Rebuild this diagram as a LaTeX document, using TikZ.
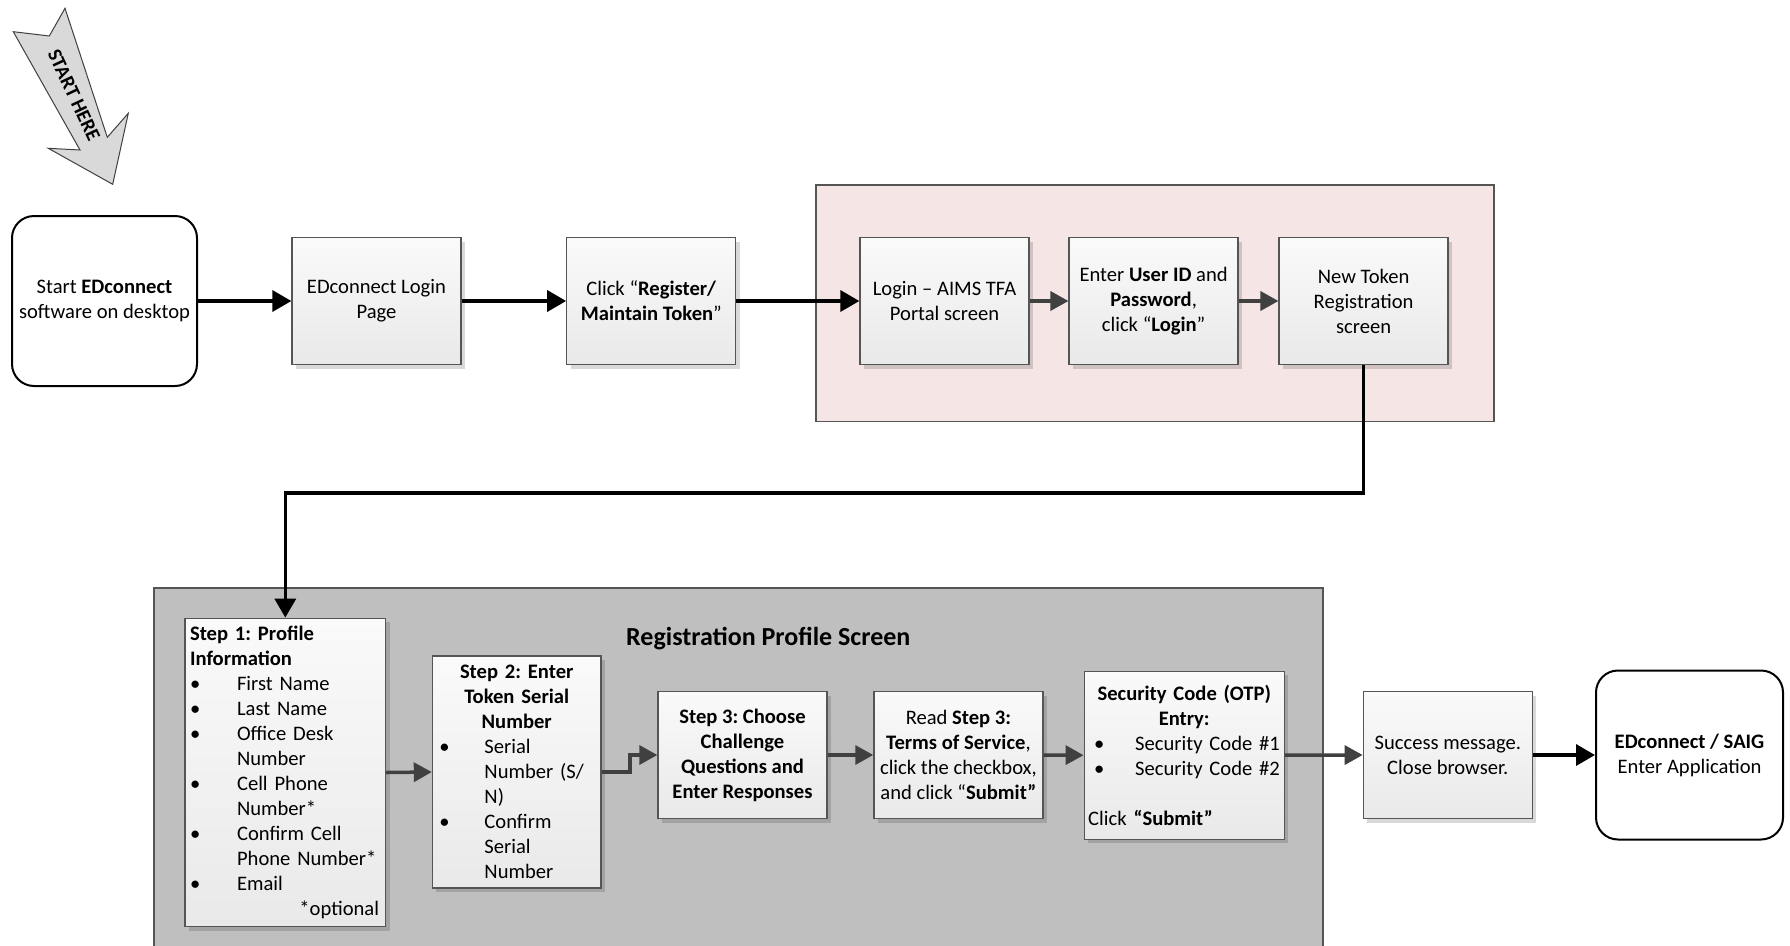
\documentclass[tikz,border=0pt]{standalone}
\usepackage{fontspec}
\setmainfont{Carlito}
\usetikzlibrary{arrows.meta,shadows}
\definecolor{boxline}{RGB}{85,85,85}
\definecolor{pinkbg}{RGB}{245,229,229}
\definecolor{graybg}{RGB}{191,191,191}
\definecolor{darkarrow}{RGB}{64,64,64}
\definecolor{boxtop}{RGB}{250,250,250}
\definecolor{boxbot}{RGB}{233,233,233}
\definecolor{startfill}{RGB}{217,217,217}
\newcommand{\itm}[3]{\mbox{\hspace*{#1pt}\makebox[\dimexpr#2pt-#1pt\relax][l]{\textbullet}#3}}
\newcommand{\cnt}{\hspace*{47pt}}
\frenchspacing
\begin{document}
\frenchspacing
\begin{tikzpicture}[x=1pt, y=-1pt,
  every node/.style={font=\fontsize{20.6}{25}\selectfont\frenchspacing},
  procbox/.style={draw=boxline, line width=1.3pt, top color=boxtop, bottom color=boxbot,
    general shadow={fill=black, opacity=0.15, shadow xshift=4pt, shadow yshift=-4pt},
    align=center, inner sep=4pt, minimum width=169pt, minimum height=127pt},
  termbox/.style={draw=black, line width=2pt, fill=white, rounded corners=22pt, align=center},
  container/.style={draw=boxline, line width=1.5pt, inner sep=0pt},
  blk/.style={line width=3.5pt, black, -{Triangle[length=19pt,width=21pt]}},
  dg/.style={line width=3.5pt, darkarrow, -{Triangle[length=18pt,width=19pt]}}]
\useasboundingbox (0,0) rectangle (1790,945);
\fill[white] (0,0) rectangle (1790,945);

% start here arrow
\draw[draw=darkarrow, line width=1pt, fill=startfill, line join=miter]
  (13.3,31.7) -- (49.3,36) -- (65,8.3) -- (107.3,137.3) -- (128.3,113.3)
  -- (112.7,184.3) -- (48.3,148.3) -- (80,150) -- cycle;
\node[font=\fontsize{20}{22}\selectfont\bfseries, rotate=-65] (starthere) at (74,95) {START HERE};

% containers
\node[container, fill=pinkbg, minimum width=678pt, minimum height=236.5pt] (pinkarea) at (1155.2,303.2) {};
\node[container, fill=graybg, minimum width=1169pt, minimum height=380pt, anchor=north west] (regarea) at (153,587) {};
\node[font=\fontsize{26}{31}\selectfont\bfseries] (title) at (768.3,639) {Registration Profile Screen};

% top row
\node[termbox, minimum width=185pt, minimum height=170pt] (start) at (104.5,301) {Start \textbf{EDconnect}\\software on desktop};
\node[procbox] (login) at (376.5,301) {EDconnect Login\\Page};
\node[procbox] (reg) at (651.3,301) {Click “\textbf{Register/}\\\textbf{Maintain Token}”};
\node[procbox] (aims) at (944.5,301) {Login – AIMS TFA\\Portal screen};
\node[procbox] (userid) at (1153.6,301) {Enter \textbf{User ID} and\\\textbf{Password},\\click “\textbf{Login}”};
\node[procbox] (newtok) at (1363.6,301) {New Token\\Registration\\screen};

% bottom row
\node[procbox, minimum width=200.5pt, minimum height=308.5pt, align=left, text width=190.5pt, inner xsep=5pt] (step1) at (285.3,772.5)
 {\textbf{Step 1: Profile}\\
  \textbf{Information}\\
  \itm{0}{47}{First Name}\\
  \itm{0}{47}{Last Name}\\
  \itm{0}{47}{Office Desk}\\
  \cnt Number\\
  \itm{0}{47}{Cell Phone}\\
  \cnt Number*\\
  \itm{0}{47}{Confirm Cell}\\
  \cnt Phone Number*\\
  \itm{0}{47}{Email}\\
  \makebox[189pt][r]{*optional}};
\node[procbox, minimum width=168.5pt, minimum height=232pt, align=left, text width=158.5pt, inner xsep=5pt] (step2) at (516.7,772)
 {\makebox[158.5pt][c]{\textbf{Step 2: Enter}}\\
  \makebox[158.5pt][c]{\textbf{Token Serial}}\\
  \makebox[158.5pt][c]{\textbf{Number}}\\
  \itm{2}{47}{Serial}\\
  \cnt Number (S/\\
  \cnt N)\\
  \itm{2}{47}{Confirm}\\
  \cnt Serial\\
  \cnt Number};
\node[procbox] (step3) at (742.5,755) {\textbf{Step 3: Choose}\\\textbf{Challenge}\\\textbf{Questions and}\\\textbf{Enter Responses}};
\node[procbox] (tos) at (958.4,755) {Read \textbf{Step 3:}\\\textbf{Terms of Service},\\click the checkbox,\\and click “\textbf{Submit”}};
\node[procbox, minimum width=200pt, minimum height=168pt, align=left, text width=192pt, inner xsep=4pt] (otp) at (1184.2,755.2)
 {\makebox[192pt][c]{\textbf{Security Code (OTP)}}\\
  \makebox[192pt][c]{\textbf{Entry:}}\\
  \itm{6}{47}{Security Code \#1}\\
  \itm{6}{47}{Security Code \#2}\\
  \strut\\
  Click \textbf{“Submit”}};
\node[procbox] (success) at (1447.8,755) {Success message.\\Close browser.};
\node[termbox, minimum width=187pt, minimum height=169pt] (saig) at (1689.5,755) {\textbf{EDconnect / SAIG}\\Enter Application};

% connectors
\draw[blk] (start.east) -- (login.west);
\draw[blk] (login.east) -- (reg.west);
\draw[blk] (reg.east) -- (aims.west);
\draw[dg] (aims.east) -- (userid.west);
\draw[dg] (userid.east) -- (newtok.west);
\draw[blk] (newtok.south) -- ++(0,128) -| (step1.north);
\draw[dg] (step1.east) -- (step2.west);
\draw[dg] (step2.east) -- ++(28.5,0) |- (step3.west);
\draw[dg] (step3.east) -- (tos.west);
\draw[dg] (tos.east) -- (otp.west);
\draw[dg] (otp.east) -- (success.west);
\draw[blk] (success.east) -- (saig.west);
\end{tikzpicture}
\end{document}
